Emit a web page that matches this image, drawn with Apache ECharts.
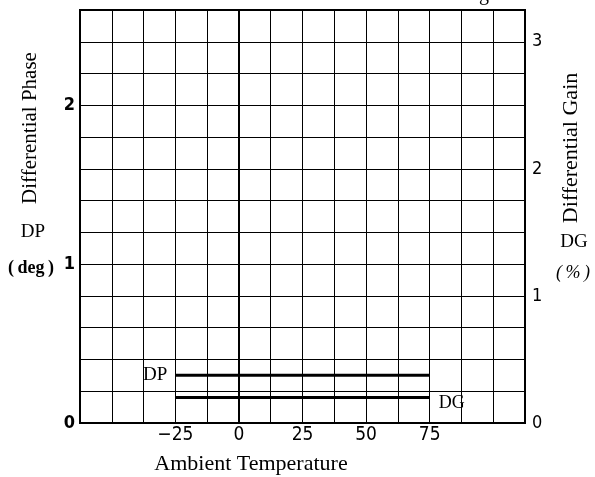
<!DOCTYPE html>
<html>
<head>
<meta charset="utf-8">
<script src="https://cdn.jsdelivr.net/npm/echarts@6/dist/echarts.min.js"></script>
<style>
    html, body { margin: 0; padding: 0; background: #fff; }
    #chart { width: 595px; height: 477px; }
</style>
</head>
<body>
<div id="chart"></div>
<script>
    // data
    var tempRange = [-25, 75];          // ambient temperature span
    var dpValues = [0.3, 0.3];          // differential phase (deg)
    var dgValues = [0.2, 0.2];          // differential gain (%)
    var xTickLabels = [-25, 0, 25, 50, 75];
    var dpTickLabels = [0, 1, 2];
    var dgTickLabels = [0, 1, 2, 3];

    var serif = '"Liberation Serif", "DejaVu Serif", serif';
    var narrow = '"Liberation Sans Narrow", "DejaVu Sans Condensed", "Liberation Sans", sans-serif';

    // only some grid values carry a label
    var pick = function (list, fmt) {
        return function (v) {
            for (var i = 0; i < list.length; i++) {
                if (Math.abs(v - list[i]) < 1e-6) {
                    return fmt ? fmt(list[i]) : String(list[i]);
                }
            }
            return '';
        };
    };

    var textEl = function (txt, x, y, font, rotate) {
        return {
            type: 'text', x: x, y: y, rotation: rotate ? Math.PI / 2 : 0,
            style: {text: txt, font: font, fill: '#000',
                    textAlign: 'center', textVerticalAlign: 'middle'}
        };
    };

    var myChart = echarts.init(document.getElementById('chart'), null, {renderer: 'canvas'});

    var option = {
        animation: false,
        backgroundColor: '#fff',
        grid: {
            left: 80, right: 70, top: 10, bottom: 54,
            show: true, borderColor: '#000', borderWidth: 2
        },
        xAxis: {
            type: 'value',
            min: -62.5, max: 112.5, interval: 12.5,
            axisLine: {show: true, lineStyle: {color: '#000', width: 2}},
            axisTick: {show: false},
            splitLine: {show: true, lineStyle: {color: '#000', width: 1}},
            axisLabel: {
                color: '#000', fontFamily: narrow, fontSize: 19, margin: 3,
                formatter: pick(xTickLabels, function (v) {
                    return v < 0 ? '\u2212' + Math.abs(v) : String(v);
                })
            }
        },
        yAxis: [{
            type: 'value',
            min: 0, max: 2.6, interval: 0.2,
            axisLine: {show: true, lineStyle: {color: '#000', width: 2}},
            axisTick: {show: false},
            splitLine: {show: true, lineStyle: {color: '#000', width: 1}},
            axisLabel: {
                color: '#000', fontFamily: narrow, fontSize: 18, fontWeight: 'bold', margin: 5,
                formatter: pick(dpTickLabels)
            }
        }, {
            type: 'value',
            min: 0, max: 3.25, interval: 0.25,
            position: 'right',
            axisLine: {show: true, lineStyle: {color: '#000', width: 2}},
            axisTick: {show: false},
            splitLine: {show: false},
            axisLabel: {
                color: '#000', fontFamily: narrow, fontSize: 18, margin: 7,
                formatter: pick(dgTickLabels)
            }
        }],
        series: [{
            name: 'DP',
            type: 'line',
            yAxisIndex: 0,
            symbol: 'circle', symbolSize: 0.1,
            lineStyle: {color: '#000', width: 3},
            itemStyle: {color: '#000'},
            data: [{
                value: [tempRange[0], dpValues[0]],
                label: {
                    show: true, position: 'left', distance: 8, formatter: 'DP',
                    color: '#000', fontFamily: serif, fontSize: 19
                }
            }, [tempRange[1], dpValues[1]]]
        }, {
            name: 'DG',
            type: 'line',
            yAxisIndex: 1,
            symbol: 'circle', symbolSize: 0.1,
            lineStyle: {color: '#000', width: 3},
            itemStyle: {color: '#000'},
            data: [[tempRange[0], dgValues[0]], {
                value: [tempRange[1], dgValues[1]],
                label: {
                    show: true, position: 'right', distance: 9, offset: [0, 6], formatter: 'DG',
                    color: '#000', fontFamily: serif, fontSize: 18
                }
            }]
        }],
        graphic: [
            textEl('Differential Phase', 30, 128, '21px ' + serif, true),
            textEl('DP', 33, 232, '19px ' + serif),
            textEl('(\u2009deg\u2009)', 31, 268, 'bold 18px ' + serif),
            textEl('Differential Gain', 571, 148, '22px ' + serif, true),
            textEl('DG', 574, 242, '19px ' + serif),
            textEl('(\u2009%\u2009)', 573, 273, 'italic 18px ' + serif),
            textEl('Ambient Temperature', 251, 464, '22px ' + serif),
            {
                // clipped glyph at the top edge of the scan
                type: 'text', x: 484, y: 5,
                style: {text: 'g', font: '20px ' + serif, fill: '#000',
                        textAlign: 'center', textVerticalAlign: 'bottom'}
            }
        ]
    };

    myChart.setOption(option);
</script>
</body>
</html>
